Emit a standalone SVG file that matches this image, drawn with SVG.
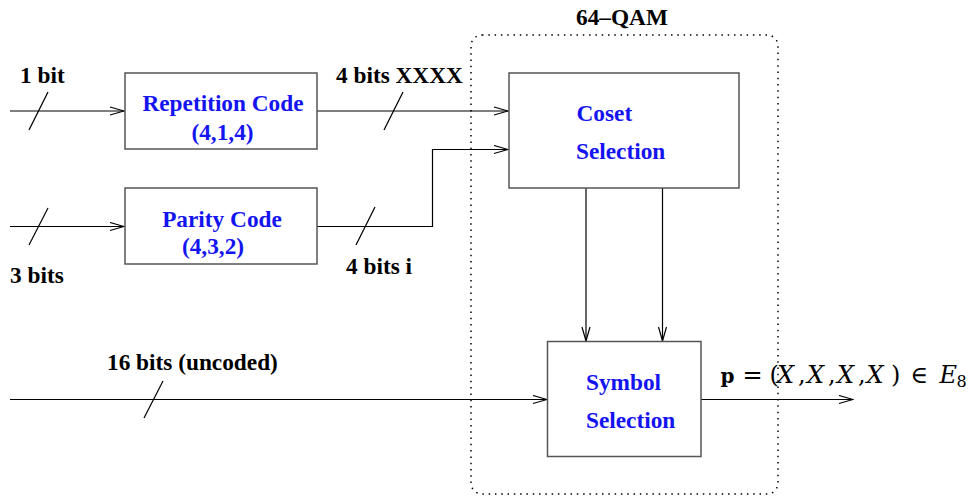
<svg xmlns="http://www.w3.org/2000/svg" width="974" height="497" viewBox="0 0 974 497">
<style>
.box{fill:#fff;stroke:#555;stroke-width:1.5}
.ln{fill:none;stroke:#000;stroke-width:1.2}
.lbl{font-family:"Liberation Serif",serif;font-weight:bold;font-size:23.3px;fill:#000}
.blue{font-family:"Liberation Serif",serif;font-weight:bold;font-size:23.3px;fill:#1414f0}
.math{font-family:"DejaVu Serif",serif;font-size:24px;fill:#000}
</style>
<defs>
<marker id="ah" markerWidth="16" markerHeight="10" refX="15" refY="5" orient="auto" markerUnits="userSpaceOnUse">
<path d="M1,1 L15,5 L1,9" fill="none" stroke="#000" stroke-width="1.2"/>
</marker>
</defs>
<rect width="974" height="497" fill="#fff"/>
<g id="qam">
<rect x="471" y="35" width="307" height="459" rx="11" fill="none" stroke="#000" stroke-width="1.5" stroke-dasharray="1.5 4.8"/>
<text class="lbl" x="622" y="25" text-anchor="middle">64–QAM</text>
</g>
<g id="connectors">
<line class="ln" x1="10" y1="111" x2="124" y2="111" marker-end="url(#ah)"/>
<line class="ln" x1="29" y1="130" x2="48" y2="92"/>
<line class="ln" x1="10" y1="226.5" x2="124" y2="226.5" marker-end="url(#ah)"/>
<line class="ln" x1="29" y1="245" x2="48" y2="208"/>
<line class="ln" x1="317" y1="111" x2="508" y2="111" marker-end="url(#ah)"/>
<line class="ln" x1="384" y1="130" x2="403" y2="92"/>
<polyline class="ln" points="317,226.5 432.5,226.5 432.5,149.5 508,149.5" marker-end="url(#ah)"/>
<line class="ln" x1="356" y1="245" x2="375" y2="207"/>
<line class="ln" x1="586" y1="188" x2="586" y2="341" marker-end="url(#ah)"/>
<line class="ln" x1="662.5" y1="188" x2="662.5" y2="341" marker-end="url(#ah)"/>
<line class="ln" x1="10" y1="399.5" x2="547" y2="399.5" marker-end="url(#ah)"/>
<line class="ln" x1="144" y1="418" x2="163" y2="381"/>
<line class="ln" x1="701" y1="399.5" x2="853" y2="399.5" marker-end="url(#ah)"/>
</g>
<g id="rep">
<rect class="box" x="125" y="73" width="192" height="76"/>
<text class="blue" x="223" y="110.5" text-anchor="middle">Repetition Code</text>
<text class="blue" x="222.5" y="139.5" text-anchor="middle">(4,1,4)</text>
</g>
<g id="par">
<rect class="box" x="125" y="188" width="192" height="76"/>
<text class="blue" x="222" y="226.5" text-anchor="middle">Parity Code</text>
<text class="blue" x="213" y="254" text-anchor="middle">(4,3,2)</text>
</g>
<g id="coset">
<rect class="box" x="509" y="73" width="230" height="115"/>
<text class="blue" x="576.5" y="120.5">Coset</text>
<text class="blue" x="576" y="158.5">Selection</text>
</g>
<g id="symbol">
<rect class="box" x="547.5" y="341.5" width="153.5" height="115"/>
<text class="blue" x="586" y="390">Symbol</text>
<text class="blue" x="586" y="427.5">Selection</text>
</g>
<g id="labels">
<text class="lbl" x="20" y="82.5">1 bit</text>
<text class="lbl" x="10" y="283">3 bits</text>
<text class="lbl" x="336" y="82.5">4 bits XXXX</text>
<text class="lbl" x="346" y="274">4 bits i</text>
<text class="lbl" x="107" y="370">16 bits (uncoded)</text>
<text class="math" y="383.3"><tspan x="720.5" font-weight="bold" font-size="20">p</tspan><tspan x="742.5">=</tspan><tspan x="769.5">(</tspan><tspan x="777" font-style="italic">X</tspan><tspan x="798">,</tspan><tspan x="807" font-style="italic">X</tspan><tspan x="828">,</tspan><tspan x="837" font-style="italic">X</tspan><tspan x="858">,</tspan><tspan x="866.5" font-style="italic">X</tspan><tspan x="891">)</tspan><tspan x="910.5">∈</tspan><tspan x="939.5" font-style="italic">E</tspan><tspan x="956.5" dy="4" font-size="16">8</tspan></text>
</g>
</svg>
